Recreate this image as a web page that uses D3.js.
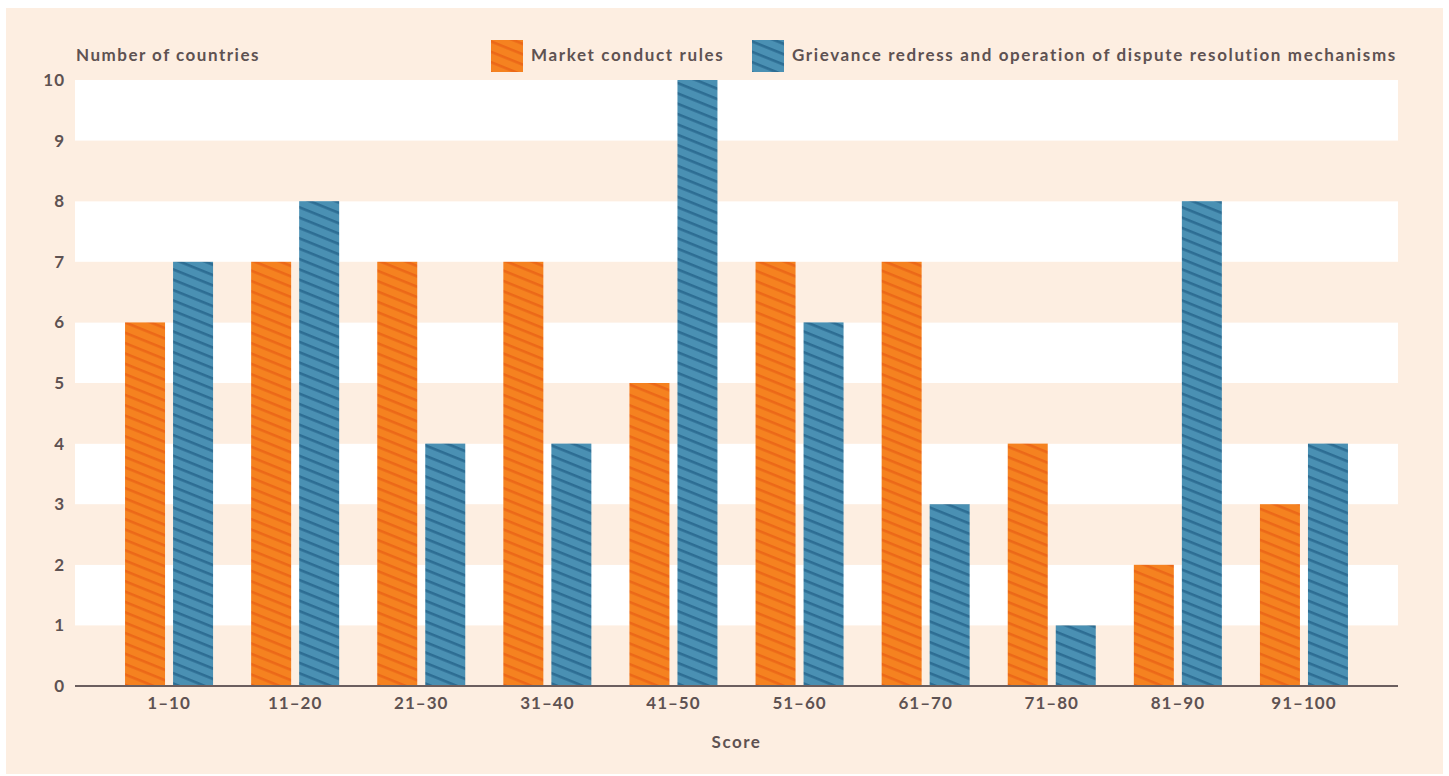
<!DOCTYPE html>
<html>
<head>
<meta charset="utf-8">
<script src="https://cdn.jsdelivr.net/npm/d3@7"></script>
<style>
  body { margin: 0; background: #fff; }
  svg text { font-family: "Lato", "Open Sans", sans-serif; font-weight: 700; fill: #5e5252; }
</style>
</head>
<body>
<svg id="chart" width="1449" height="776"></svg>
<script>
var categories = ['1\u201310', '11\u201320', '21\u201330', '31\u201340', '41\u201350', '51\u201360', '61\u201370', '71\u201380', '81\u201390', '91\u2013100'];
var seriesNames = ['Market conduct rules', 'Grievance redress and operation of dispute resolution mechanisms'];
var marketConduct = [6, 7, 7, 7, 5, 7, 7, 4, 2, 3];
var grievanceRedress = [7, 8, 4, 4, 10, 6, 3, 1, 8, 4];
var yTicks = [0, 1, 2, 3, 4, 5, 6, 7, 8, 9, 10];

var colors = [
    { fill: '#f58220', stripe: '#ec6818' },
    { fill: '#4a90b3', stripe: '#2d6d93' }
];

var svg = d3.select('#chart');
var plot = { left: 75, right: 1398, top: 80, bottom: 686 };

// panel background
svg.append('rect')
    .attr('x', 6).attr('y', 8)
    .attr('width', 1437).attr('height', 766)
    .attr('fill', '#fdeee1');

// stripe patterns
var defs = svg.append('defs');
colors.forEach(function (c, i) {
    var p = defs.append('pattern')
        .attr('id', 'hatch' + i)
        .attr('patternUnits', 'userSpaceOnUse')
        .attr('width', 20).attr('height', 9.6)
        .attr('patternTransform', 'rotate(22)');
    p.append('rect').attr('width', 20).attr('height', 9.6).attr('fill', c.fill);
    p.append('rect').attr('y', 0).attr('width', 20).attr('height', 2.6).attr('fill', c.stripe);
});

var y = d3.scaleLinear().domain([0, 10]).range([plot.bottom, plot.top]);

var x0 = d3.scaleBand()
    .domain(categories)
    .range([106, 1367])
    .paddingInner(0.302)
    .paddingOuter(0.151);

var x1 = d3.scaleBand()
    .domain([0, 1])
    .range([0, x0.bandwidth()])
    .paddingInner(0.167);

// alternating bands
svg.append('g').selectAll('rect')
    .data(yTicks.slice(0, -1))
    .enter().append('rect')
    .attr('x', plot.left)
    .attr('width', plot.right - plot.left)
    .attr('y', function (d) { return y(d + 1); })
    .attr('height', function (d) { return y(d) - y(d + 1); })
    .attr('fill', function (d) { return d % 2 === 0 ? '#fdeee1' : '#ffffff'; });

// bars
var rows = categories.map(function (c, i) {
    return { cat: c, values: [marketConduct[i], grievanceRedress[i]] };
});

var groups = svg.append('g').selectAll('g')
    .data(rows)
    .enter().append('g')
    .attr('transform', function (d) { return 'translate(' + x0(d.cat) + ',0)'; });

groups.selectAll('rect')
    .data(function (d) { return d.values.map(function (v, i) { return { i: i, v: v }; }); })
    .enter().append('rect')
    .attr('x', function (d) { return x1(d.i); })
    .attr('width', x1.bandwidth())
    .attr('y', function (d) { return y(d.v); })
    .attr('height', function (d) { return y(0) - y(d.v); })
    .attr('fill', function (d) { return 'url(#hatch' + d.i + ')'; });

function styleTicks(sel) {
    sel.selectAll('text')
        .style('font-size', '17px')
        .style('font-family', '"Lato", sans-serif')
        .style('font-weight', 700)
        .style('letter-spacing', '1px')
        .attr('fill', '#5e5252');
}

// axes
var yAxis = d3.axisLeft(y).tickValues(yTicks).tickSize(0).tickPadding(0);
var $y = svg.append('g')
    .attr('transform', 'translate(65,0)')
    .call(yAxis);
$y.select('.domain').remove();
styleTicks($y);

var xAxis = d3.axisBottom(x0).tickSize(0).tickPadding(11);
var $x = svg.append('g')
    .attr('transform', 'translate(0,' + plot.bottom + ')')
    .call(xAxis);
$x.select('.domain').remove();
styleTicks($x);

svg.append('line')
    .attr('x1', plot.left).attr('x2', plot.right)
    .attr('y1', plot.bottom).attr('y2', plot.bottom)
    .attr('stroke', '#6b5e5e')
    .attr('stroke-width', 2);

// titles
svg.append('text')
    .attr('x', 76).attr('y', 61)
    .style('font-size', '17px')
    .style('letter-spacing', '1.5px')
    .text('Number of countries');

svg.append('text')
    .attr('x', (plot.left + plot.right) / 2).attr('y', 748)
    .attr('text-anchor', 'middle')
    .style('font-size', '17px')
    .style('letter-spacing', '1.5px')
    .text('Score');

// legend
var legendX = [491, 752];
var legend = svg.append('g').selectAll('g')
    .data(seriesNames)
    .enter().append('g')
    .attr('transform', function (d, i) { return 'translate(' + legendX[i] + ',40)'; });

legend.append('rect')
    .attr('width', 32).attr('height', 32)
    .attr('fill', function (d, i) { return 'url(#hatch' + i + ')'; });

legend.append('text')
    .attr('x', 40).attr('y', 21)
    .style('font-size', '17px')
    .style('letter-spacing', '1.62px')
    .text(function (d) { return d; });
</script>
</body>
</html>
